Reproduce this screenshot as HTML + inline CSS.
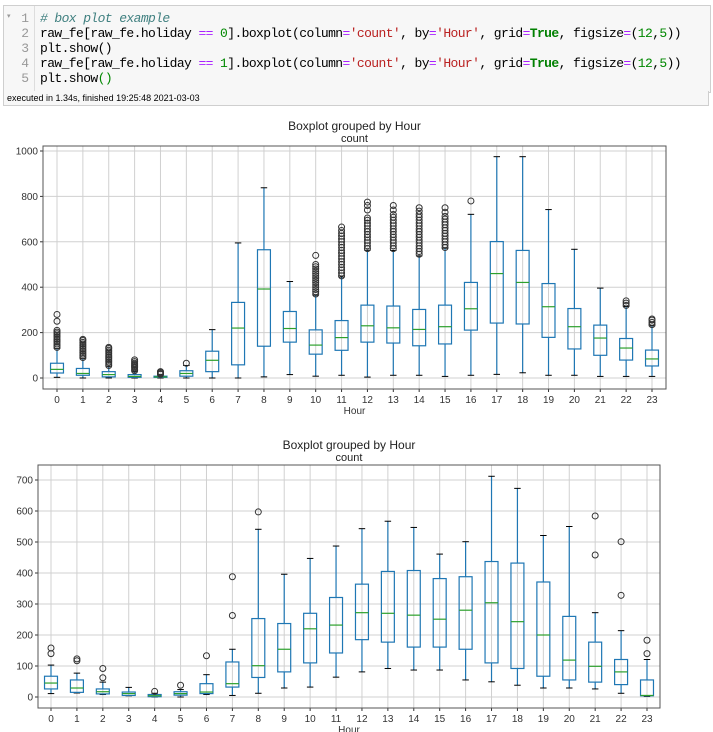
<!DOCTYPE html>
<html><head><meta charset="utf-8">
<style>
body{margin:0;width:713px;height:732px;background:#fff;overflow:hidden;position:relative;font-family:"Liberation Sans",sans-serif}
#cell{position:absolute;left:3px;top:5px;width:706px;height:86px;border:1px solid #cfcfcf;background:#f7f7f7}
#gutter{position:absolute;left:0;top:0;width:30px;height:86px;border-right:1px solid #ddd}
.ln{position:absolute;right:5px;font:13px "Liberation Mono",monospace;color:#999}
.code{position:absolute;left:36px;font:13px "Liberation Mono",monospace;color:#000;white-space:pre;letter-spacing:-0.6px}
.cm{color:#408080;font-style:italic}.op{color:#aa22ff}.num{color:#080}.str{color:#ba2121}.kw{color:#008000;font-weight:bold}
#foot{position:absolute;left:3px;top:91px;width:706px;height:15px;border:1px solid #cfcfcf;border-top:none;background:#f7f7f7;font:9px "Liberation Sans",sans-serif;line-height:15px;padding-left:3px;box-sizing:border-box;color:#000}
svg{position:absolute;left:0;top:0}
</style></head><body>
<div id="cell">
<div id="gutter">
<span style="position:absolute;left:3px;top:6px;font-size:7px;color:#999">▾</span>
<span class="ln" style="top:5px">1</span><span class="ln" style="top:20px">2</span><span class="ln" style="top:35px">3</span><span class="ln" style="top:50px">4</span><span class="ln" style="top:65px">5</span>
</div>
<div class="code" style="top:5px"><span class="cm"># box plot example</span></div>
<div class="code" style="top:20px">raw_fe[raw_fe.holiday <span class="op">==</span> <span class="num">0</span>].boxplot(column<span class="op">=</span><span class="str">'count'</span>, by<span class="op">=</span><span class="str">'Hour'</span>, grid<span class="op">=</span><span class="kw">True</span>, figsize<span class="op">=</span>(<span class="num">12</span>,<span class="num">5</span>))</div>
<div class="code" style="top:35px">plt.show()</div>
<div class="code" style="top:50px">raw_fe[raw_fe.holiday <span class="op">==</span> <span class="num">1</span>].boxplot(column<span class="op">=</span><span class="str">'count'</span>, by<span class="op">=</span><span class="str">'Hour'</span>, grid<span class="op">=</span><span class="kw">True</span>, figsize<span class="op">=</span>(<span class="num">12</span>,<span class="num">5</span>))</div>
<div class="code" style="top:65px">plt.show<span class="num">()</span></div>
</div>
<div id="foot">executed in 1.34s, finished 19:25:48 2021-03-03</div>
<svg id="chart" width="713" height="732" xmlns="http://www.w3.org/2000/svg"></svg>
<script>
const hours=["0","1","2","3","4","5","6","7","8","9","10","11","12","13","14","15","16","17","18","19","20","21","22","23"];
// chart 1 (holiday == 0)
const lo1=[3,0,0,0,0,0,0,0,5,15,8,12,4,12,12,7,12,16,23,12,12,7,7,7];
const q1a=[22,12,5,3,3,8,28,58,140,158,105,122,158,154,142,150,211,242,238,179,128,100,79,53];
const med1=[38,20,15,7,5,20,78,220,392,218,145,178,230,221,214,226,305,460,421,314,226,176,132,84];
const q3a=[65,42,28,15,8,32,118,333,565,293,212,253,321,317,302,321,421,601,562,416,306,233,174,123];
const hi1=[130,85,52,30,14,55,213,595,838,425,365,445,563,562,538,572,721,975,975,742,567,396,315,230];
const out1=[[135,142,150,158,165,172,180,188,195,202,210,250,280],[90,98,105,112,120,128,135,142,150,157,165,170],[55,62,70,78,85,92,100,108,115,122,130,135],[32,38,45,50,55,60,65,72,80],[16,20,24,28],[65],[],[],[],[],[370,380,390,400,410,420,430,440,450,460,470,480,490,500,540],[450,462,475,487,500,512,525,537,550,562,575,587,600,612,625,637,650,665],[570,582,595,607,620,632,645,657,670,682,695,705,740,760,775],[570,582,595,607,620,632,645,657,670,682,695,708,720,740,760],[545,557,570,582,595,607,620,632,645,657,670,682,695,708,720,735,750],[575,587,600,612,625,637,650,662,675,687,700,712,730,750],[780],[],[],[],[],[],[320,330,340],[235,245,255,260]];
const ticks1=[0,200,400,600,800,1000];
// chart 2 (holiday == 1)
const lo2=[11,13,8,4,0,0,8,5,12,29,32,64,81,92,87,87,55,49,38,29,29,26,12,2];
const q1b=[26,15,10,5,1,6,11,32,63,81,110,142,185,177,161,161,154,110,92,67,55,48,40,4];
const med2=[45,29,17,11,4,11,16,43,101,154,220,232,272,270,264,251,280,304,243,200,119,99,81,5];
const q3b=[67,55,26,16,8,17,43,113,253,237,270,321,364,405,408,382,388,437,432,371,260,177,121,55];
const hi2=[103,77,48,31,12,24,72,154,541,396,447,487,543,567,547,461,501,712,673,521,550,272,214,121];
const out2=[[140,158],[117,123],[62,92],[],[18],[38],[133],[263,388],[597],[],[],[],[],[],[],[],[],[],[],[],[],[458,584],[328,501],[140,183]];
const ticks2=[0,100,200,300,400,500,600,700];

const svg=document.getElementById('chart');
const NS='http://www.w3.org/2000/svg';
function mk(tag,attrs){const e=document.createElementNS(NS,tag);for(const k in attrs)e.setAttribute(k,attrs[k]);svg.appendChild(e);return e;}

function drawChart(cfg,lo,q1,med,q3,hi,outs,ticks,prefix){
  const yS=v=>cfg.y0-(v-0)*(cfg.y0-cfg.yTop)/(cfg.vTop);
  const xS=i=>cfg.x0+i*(cfg.x23-cfg.x0)/23;
  const sp=(cfg.x23-cfg.x0)/23;
  hours.forEach((h,i)=>{const g=mk('line',{x1:xS(i),x2:xS(i),y1:cfg.top,y2:cfg.bot,stroke:'#d0d0d0','stroke-width':1});
    });
  ticks.forEach(t=>{const g=mk('line',{x1:cfg.left,x2:cfg.right,y1:yS(t),y2:yS(t),stroke:'#d0d0d0','stroke-width':1});
    
    const tk=mk('line',{x1:cfg.left-3,x2:cfg.left,y1:yS(t),y2:yS(t),stroke:'#333'});
    
    const tl=mk('text',{x:cfg.left-5,y:yS(t)+3.5,'text-anchor':'end','font-size':10,fill:'#333','font-family':'Liberation Sans, sans-serif'});
    tl.textContent=t;});
  hours.forEach((h,i)=>{const x=xS(i),w=sp*0.5;
    const tk=mk('line',{x1:x,x2:x,y1:cfg.bot,y2:cfg.bot+3,stroke:'#333'});
    
    const tl=mk('text',{x:x,y:cfg.bot+14,'text-anchor':'middle','font-size':10,fill:'#333','font-family':'Liberation Sans, sans-serif'});
    tl.textContent=h;
    const wl=mk('line',{x1:x,x2:x,y1:yS(lo[i]),y2:yS(q1[i]),stroke:'#1f77b4','stroke-width':1.2});
    
    const wh=mk('line',{x1:x,x2:x,y1:yS(q3[i]),y2:yS(hi[i]),stroke:'#1f77b4','stroke-width':1.2});
    
    const c1=mk('line',{x1:x-w/4,x2:x+w/4,y1:yS(lo[i]),y2:yS(lo[i]),stroke:'#000','stroke-width':1});
    
    const c2=mk('line',{x1:x-w/4,x2:x+w/4,y1:yS(hi[i]),y2:yS(hi[i]),stroke:'#000','stroke-width':1});
    
    const b=mk('rect',{x:x-w/2,y:yS(q3[i]),width:w,height:Math.max(1,yS(q1[i])-yS(q3[i])),fill:'none',stroke:'#1f77b4','stroke-width':1.2});
    
    const m=mk('line',{x1:x-w/2,x2:x+w/2,y1:yS(med[i]),y2:yS(med[i]),stroke:'#2ca02c','stroke-width':1.2});
    
    outs[i].forEach(v=>{const o=mk('circle',{cx:x,cy:yS(v),r:3,fill:'none',stroke:'#333','stroke-width':1});
      });
  });
  const fr=mk('rect',{x:cfg.left,y:cfg.top,width:cfg.right-cfg.left,height:cfg.bot-cfg.top,fill:'none',stroke:'#555','stroke-width':1});
  
  const cx=(cfg.left+cfg.right)/2;
  const t1=mk('text',{x:cx,y:cfg.top-16,'text-anchor':'middle','font-size':12,fill:'#222','font-family':'Liberation Sans, sans-serif'});
  t1.textContent='Boxplot grouped by Hour';
  const t2=mk('text',{x:cx,y:cfg.top-4,'text-anchor':'middle','font-size':11,fill:'#222','font-family':'Liberation Sans, sans-serif'});
  t2.textContent='count';
  const xl=mk('text',{x:cx,y:cfg.bot+25,'text-anchor':'middle','font-size':10,fill:'#333','font-family':'Liberation Sans, sans-serif'});
  xl.textContent='Hour';
}
drawChart({left:43,right:666,top:146,bot:389,y0:378,yTop:151,vTop:1000,x0:57,x23:652},lo1,q1a,med1,q3a,hi1,out1,ticks1,'chart1');
drawChart({left:38,right:660,top:465,bot:708,y0:697,yTop:480,vTop:700,x0:51,x23:647},lo2,q1b,med2,q3b,hi2,out2,ticks2,'chart2');
</script>
</body></html>
